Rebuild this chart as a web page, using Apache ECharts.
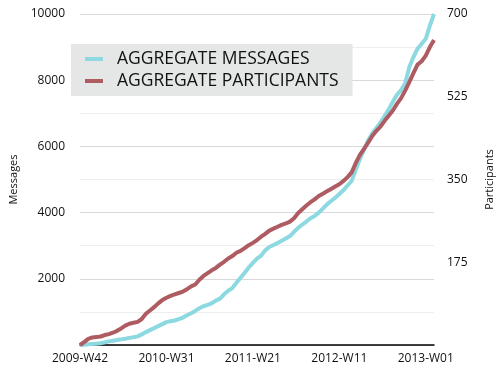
<!DOCTYPE html>
<html><head><meta charset="utf-8">
<script src="https://cdn.jsdelivr.net/npm/echarts@6/dist/echarts.min.js"></script>
<style>html,body{margin:0;padding:0;background:#fff}#c{width:503px;height:373px}</style>
</head><body><div id="c"></div>
<script>
// ISO weeks, every 2 weeks, 2009-W42 .. 2013-W05
const weekStarts = [[2009, 42, 53], [2010, 1, 52], [2011, 1, 52], [2012, 1, 52], [2013, 1, 5]];
const categories = [];
weekStarts.forEach(([y, s, e]) => { for (let w = s; w <= e; w += 2) categories.push(y + '-W' + (w < 10 ? '0' + w : w)); });

const messages = [0,10,20,30,40,55,80,110,130,150,170,190,215,235,260,320,390,450,510,570,630,690,720,740,780,830,900,960,1030,1110,
  1170,1210,1260,1340,1400,1530,1640,1720,1880,2030,2180,2340,2480,2610,2700,2860,2960,3020,3080,3150,3220,3290,3420,3540,3640,3730,3830,3900,
  4000,4120,4250,4350,4450,4560,4680,4820,4960,5300,5620,5900,6180,6400,6560,6720,6920,7120,7350,7560,7700,7900,8400,8700,8950,9100,9250,9650,10000];
const participants = [0,6,13,16,17,18,21,23,26,30,35,41,45,47,49,55,66,73,80,88,95,100,104,107,110,113,118,124,128,138,
  146,152,158,163,170,176,183,188,195,199,205,211,216,222,229,235,242,246,250,254,257,261,268,279,287,295,302,308,
  315,320,325,330,335,340,347,355,365,385,402,415,428,442,453,462,474,485,496,510,522,538,556,575,593,600,612,630,645];
const messageTicks = [2000, 4000, 6000, 8000, 10000];
const participantTicks = [175, 350, 525, 700];

const chart = echarts.init(document.getElementById('c'));
const font = 'Open Sans';
chart.setOption({
  animation: false,
  textStyle: { fontFamily: font },
  grid: { left: 69, right: 62, top: 14, bottom: 28 },
  legend: {
    orient: 'vertical', left: 71, top: 44,
    backgroundColor: '#e5e6e6', padding: [6, 14, 6, 14], itemGap: 4,
    icon: 'rect', itemWidth: 18, itemHeight: 4,
    textStyle: { fontFamily: font, fontSize: 17.5, color: '#111', padding: [0, 0, 0, 9] },
    data: ['AGGREGATE MESSAGES', 'AGGREGATE PARTICIPANTS']
  },
  xAxis: {
    type: 'category', data: categories, boundaryGap: false,
    axisLine: { lineStyle: { color: '#000', width: 1.5 } },
    axisTick: { show: false },
    axisLabel: { interval: 20, color: '#111', fontSize: 12, margin: 8 },
    splitLine: { show: false }
  },
  yAxis: [{
    type: 'value', min: 0, max: 10000, interval: 1000,
    name: 'Messages', nameLocation: 'middle', nameRotate: 90, nameGap: 61,
    nameTextStyle: { color: '#111', fontSize: 11 },
    axisLine: { show: false }, axisTick: { show: false },
    axisLabel: { color: '#111', fontSize: 12, margin: 15,
      formatter: v => messageTicks.indexOf(v) >= 0 ? String(v) : '' },
    splitLine: { lineStyle: { color: ['#d9d9d9', '#eeeeee'], width: 1 } }
  }, {
    type: 'value', min: 0, max: 700, interval: 175,
    name: 'Participants', nameLocation: 'middle', nameRotate: 90, nameGap: 50,
    nameTextStyle: { color: '#111', fontSize: 11 },
    axisLine: { show: false }, axisTick: { show: false },
    axisLabel: { color: '#111', fontSize: 12, margin: 13,
      formatter: v => participantTicks.indexOf(v) >= 0 ? String(v) : '' },
    splitLine: { show: false }
  }],
  series: [{
    name: 'AGGREGATE MESSAGES', type: 'line', data: messages, yAxisIndex: 0,
    showSymbol: false, color: '#8cd9e1',
    lineStyle: { width: 4, color: '#8cd9e1', join: 'round' }
  }, {
    name: 'AGGREGATE PARTICIPANTS', type: 'line', data: participants, yAxisIndex: 1,
    showSymbol: false, color: '#ae5b61',
    lineStyle: { width: 4, color: '#ae5b61', join: 'round' }
  }]
});
</script></body></html>
